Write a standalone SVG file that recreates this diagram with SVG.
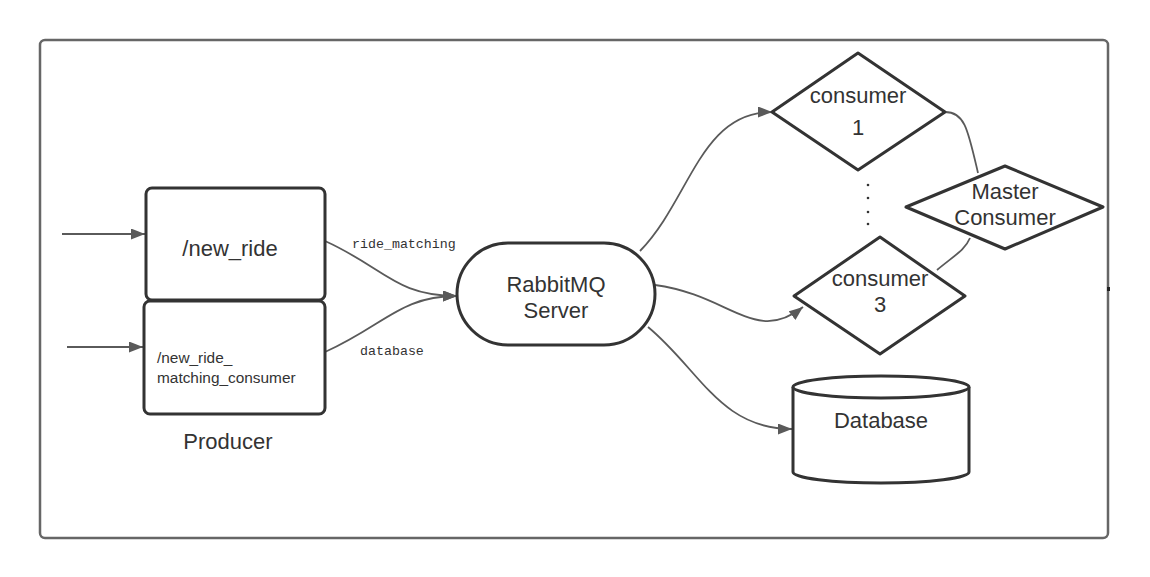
<svg xmlns="http://www.w3.org/2000/svg" width="1150" height="577" viewBox="0 0 1150 577">
<style>
.node{fill:#fff;stroke:#333;stroke-width:3;stroke-linejoin:round}
.t{font-family:"Liberation Sans",Arial,sans-serif;fill:#333;text-anchor:middle}
.s{font-family:"Liberation Sans",Arial,sans-serif;fill:#333;font-size:15.4px}
.lbl{font-family:"Liberation Mono","Courier New",monospace;font-size:13.3px;fill:#333}
.c{fill:none;stroke:#5a5a5a;stroke-width:1.8}
</style>
<defs>
<marker id="ah" markerUnits="userSpaceOnUse" markerWidth="15" markerHeight="11" refX="14" refY="5.5" orient="auto">
<path d="M0,0 L14,5.5 L0,11 z" fill="#5a5a5a"/>
</marker>
</defs>
<rect width="1150" height="577" fill="#fff"/>
<rect id="frame" x="40" y="40" width="1068" height="498" rx="5" fill="none" stroke="#666" stroke-width="2.5"/>
<rect x="1107" y="287" width="3" height="4" fill="#222"/>
<g id="connectors">
<path class="c" d="M62,234 L145,234" marker-end="url(#ah)"/>
<path class="c" d="M67,347 L143,347" marker-end="url(#ah)"/>
<path class="c" d="M325,241 C385,268 395,296 457,296" marker-end="url(#ah)"/>
<path class="c" d="M325,352 C385,325 400,296 457,296" marker-end="url(#ah)"/>
<path class="c" d="M640,251 C690,200 700,112 772,112" marker-end="url(#ah)"/>
<path class="c" d="M655,285 C730,295 755,345 803,307" marker-end="url(#ah)"/>
<path class="c" d="M648,327 C700,370 720,429 792,429" marker-end="url(#ah)"/>
<path class="c" d="M945,112 C965,112 968,130 978,173" stroke-width="1.5"/>
<path class="c" d="M937,270 C955,255 965,250 970,238" stroke-width="1.5"/>
<text class="lbl" x="352" y="248">ride_matching</text>
<text class="lbl" x="360" y="355">database</text>
</g>
<g id="new_ride">
<rect class="node" x="146" y="188" width="179" height="112" rx="6"/>
<text class="t" x="230" y="256" font-size="22">/new_ride</text>
</g>
<g id="new_ride_matching_consumer">
<rect class="node" x="144" y="301" width="181" height="113" rx="6"/>
<text class="s" x="157" y="363">/new_ride_</text>
<text class="s" x="157" y="383">matching_consumer</text>
</g>
<g id="producer">
<text class="t" x="228" y="449" font-size="22">Producer</text>
</g>
<g id="rabbitmq">
<rect class="node" x="457" y="243" width="198" height="102" rx="51"/>
<text class="t" x="556" y="292" font-size="22">RabbitMQ</text>
<text class="t" x="556" y="318" font-size="22">Server</text>
</g>
<g id="consumer1">
<path class="node" d="M858,53 L945,112 L858,170 L772,112 Z"/>
<text class="t" x="858" y="103" font-size="22">consumer</text>
<text class="t" x="858" y="135" font-size="22">1</text>
</g>
<g id="dots">
<circle cx="868" cy="185" r="1.3" fill="#333"/>
<circle cx="868" cy="198" r="1.3" fill="#333"/>
<circle cx="868" cy="212" r="1.3" fill="#333"/>
<circle cx="868" cy="224" r="1.3" fill="#333"/>
</g>
<g id="master_consumer">
<path class="node" d="M1005,166 L1103,207 L1005,249 L906,207 Z"/>
<text class="t" x="1005" y="199" font-size="22">Master</text>
<text class="t" x="1005" y="225" font-size="22">Consumer</text>
</g>
<g id="consumer3">
<path class="node" d="M880,237 L965,296 L880,354 L794,296 Z"/>
<text class="t" x="880" y="286" font-size="22">consumer</text>
<text class="t" x="880" y="312" font-size="22">3</text>
</g>
<g id="database">
<path class="node" d="M793,387 L793,472 A88,11 0 0 0 969,472 L969,387"/>
<ellipse class="node" cx="881" cy="387" rx="88" ry="11"/>
<text class="t" x="881" y="428" font-size="22">Database</text>
</g>
</svg>
